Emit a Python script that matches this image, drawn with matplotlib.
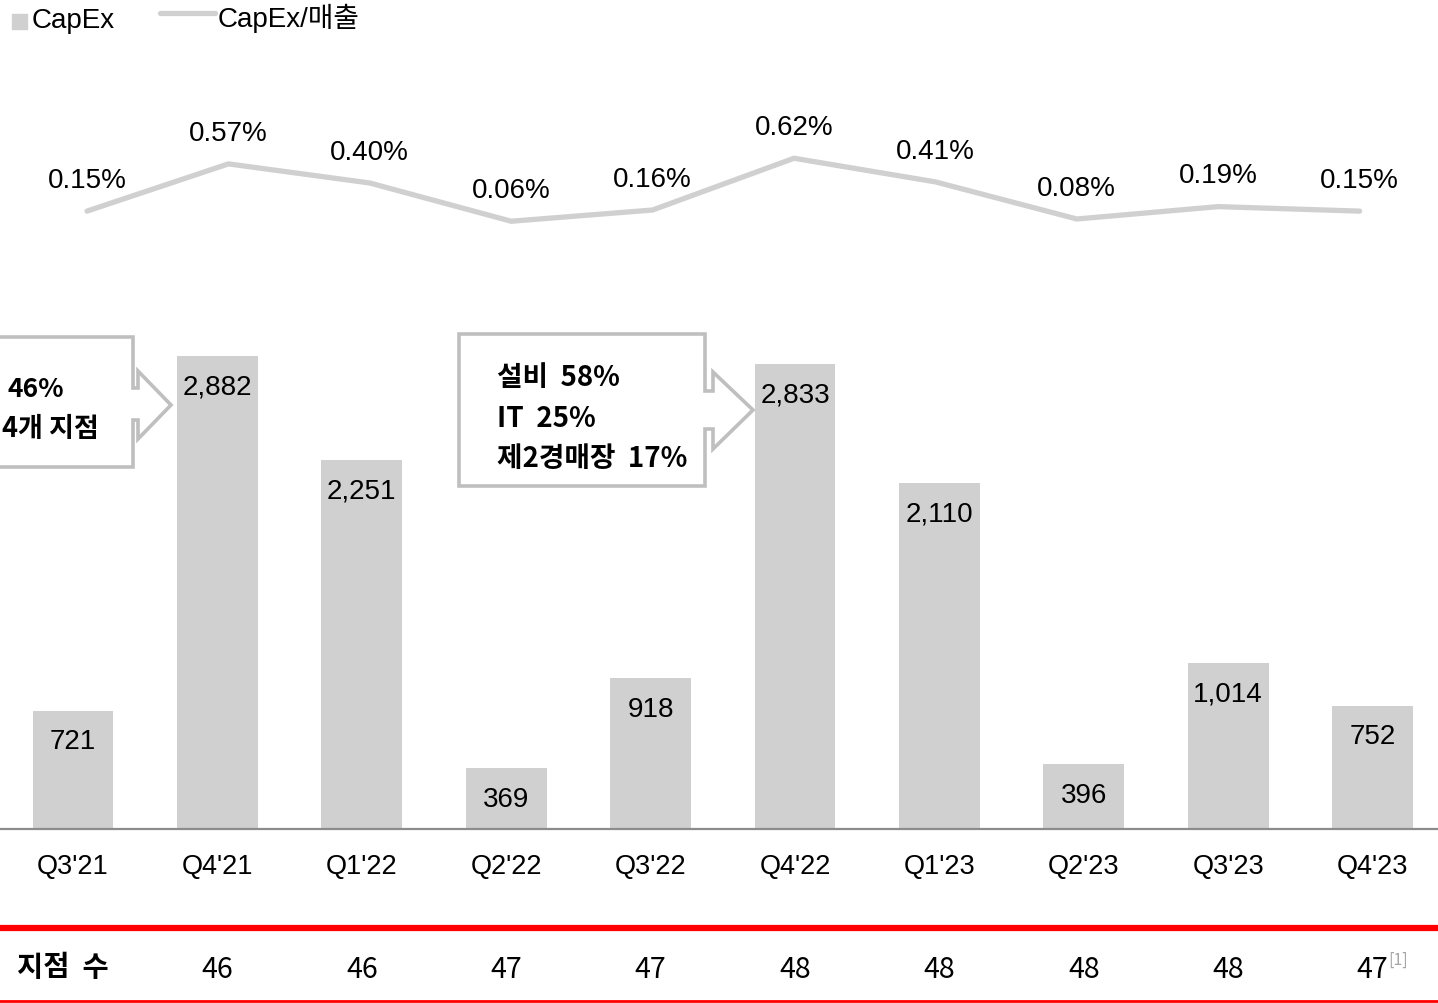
import numpy as np
import matplotlib
matplotlib.use("Agg")
from matplotlib import pyplot as plt
from matplotlib.patches import Polygon, Rectangle
from matplotlib.lines import Line2D
from matplotlib.transforms import blended_transform_factory

plt.rcParams['font.family'] = ['Liberation Sans', 'Noto Sans CJK KR', 'DejaVu Sans']

# data
quarters = ["Q3'21", "Q4'21", "Q1'22", "Q2'22", "Q3'22", "Q4'22", "Q1'23", "Q2'23", "Q3'23", "Q4'23"]
capex = [721, 2882, 2251, 369, 918, 2833, 2110, 396, 1014, 752]
capex_ratio = [0.15, 0.57, 0.40, 0.06, 0.16, 0.62, 0.41, 0.08, 0.19, 0.15]
branch_quarters = quarters[1:]
branch_counts = [46, 46, 47, 47, 48, 48, 48, 48, 47]

W, H = 1438, 1004
fig = plt.figure(figsize=(W / 100, H / 100), dpi=100)
gray = "#d0d0d0"
kr = "Noto Sans CJK KR"

# bar axes: baseline at y=830 px, bars centred every 144.4 px from x=73
step = 144.4
ax = fig.add_axes([0, (H - 830) / H, 1, 500 / H])
x = np.arange(len(quarters))
ax.bar(x, capex, width=0.56, color=gray, zorder=2)
ax.set_xlim(-73 / step, (W - 73) / step)
ax.set_ylim(0, 500 / 0.16412)
for xi, v in zip(x, capex):
    ax.annotate(f"{v:,}", (xi, v), xytext=(0, -22), textcoords="offset points",
                ha="center", va="center", fontsize=20, color="black")
ax.set_xticks(x, quarters, fontsize=19.5)
ax.tick_params(axis="x", length=0, pad=17)
ax.set_yticks([])
for s in ["top", "left", "right"]:
    ax.spines[s].set_visible(False)
ax.spines["bottom"].set_color("#8c8c8c")
ax.spines["bottom"].set_linewidth(1.6)
ax.patch.set_alpha(0)

# line axes: 0% at y=229 px, points every 141.4 px from x=87
lstep = 141.4
ax2 = fig.add_axes([0, (H - 229) / H, 1, 129 / H])
ax2.plot(x, capex_ratio, color=gray, lw=3.8, solid_capstyle="round", solid_joinstyle="round")
ax2.set_xlim(-87 / lstep, (W - 87) / lstep)
ax2.set_ylim(0, 129 / 112.5)
for xi, v in zip(x, capex_ratio):
    ax2.annotate(f"{v:.2f}%", (xi, v), xytext=(0, 22.5), textcoords="offset points",
                 ha="center", va="center", fontsize=20, color="black")
ax2.axis("off")

# table row of branch counts under the chart
tr = blended_transform_factory(ax.transData, fig.transFigure)
yrow = (H - 970) / H
bx = [quarters.index(q) for q in branch_quarters]
for xi, n in zip(bx, branch_counts):
    ax.text(xi, yrow, str(n), transform=tr, ha="center", va="center",
            fontsize=20.5, family=kr, clip_on=False)
ax.annotate("[1]", (bx[-1], yrow), xycoords=tr, xytext=(18.5, 7), textcoords="offset points",
            ha="center", va="center", fontsize=11.5, color="#a6a6a6", family=kr,
            annotation_clip=False)

# overlay in pixel coordinates for legend, callouts and table rules
ov = fig.add_axes([0, 0, 1, 1])
ov.set_xlim(0, W)
ov.set_ylim(H, 0)
ov.axis("off")
ov.patch.set_alpha(0)

ov.add_line(Line2D([0, W], [929, 929], color="#ff0000", lw=4.5))
ov.add_line(Line2D([0, W], [1002, 1002], color="#ff0000", lw=2))
ov.text(17, 968, "지점  수", fontsize=20.5, fontweight="bold", family=kr, va="center", ha="left")

# legend
ov.add_patch(Rectangle((12, 15), 15, 15, color=gray))
ov.text(32, 21, "CapEx", fontsize=20, va="center", ha="left")
ov.add_line(Line2D([160, 215], [14, 14], color=gray, lw=3.8, solid_capstyle="round"))
ov.text(218, 18, "CapEx/매출", fontsize=20, va="center", ha="left")

# callouts
box1 = [(-10, 338), (133, 338), (133, 389), (138, 389), (138, 372), (171, 406),
        (138, 440), (138, 421), (133, 421), (133, 468), (-10, 468)]
box2 = [(459, 335), (705, 335), (705, 392), (713, 392), (713, 373), (753, 411),
        (713, 450), (713, 430), (705, 430), (705, 487), (459, 487)]
for pts in [box1, box2]:
    ov.add_patch(Polygon(pts, closed=True, facecolor="white", edgecolor="#bfbfbf",
                         lw=2.6, joinstyle="miter"))

ov.text(7, 390, "46%", fontsize=19, fontweight="bold", family=kr, va="center", ha="left")
ov.text(99, 429, "4개 지점", fontsize=19.5, fontweight="bold", family=kr, va="center", ha="right")
ov.text(497, 378, "설비  58%", fontsize=20, fontweight="bold", family=kr, va="center", ha="left")
ov.text(497, 419, "IT  25%", fontsize=20, fontweight="bold", family=kr, va="center", ha="left")
ov.text(497, 459, "제2경매장  17%", fontsize=20, fontweight="bold", family=kr, va="center", ha="left")

fig.savefig("out.png", dpi=100)
